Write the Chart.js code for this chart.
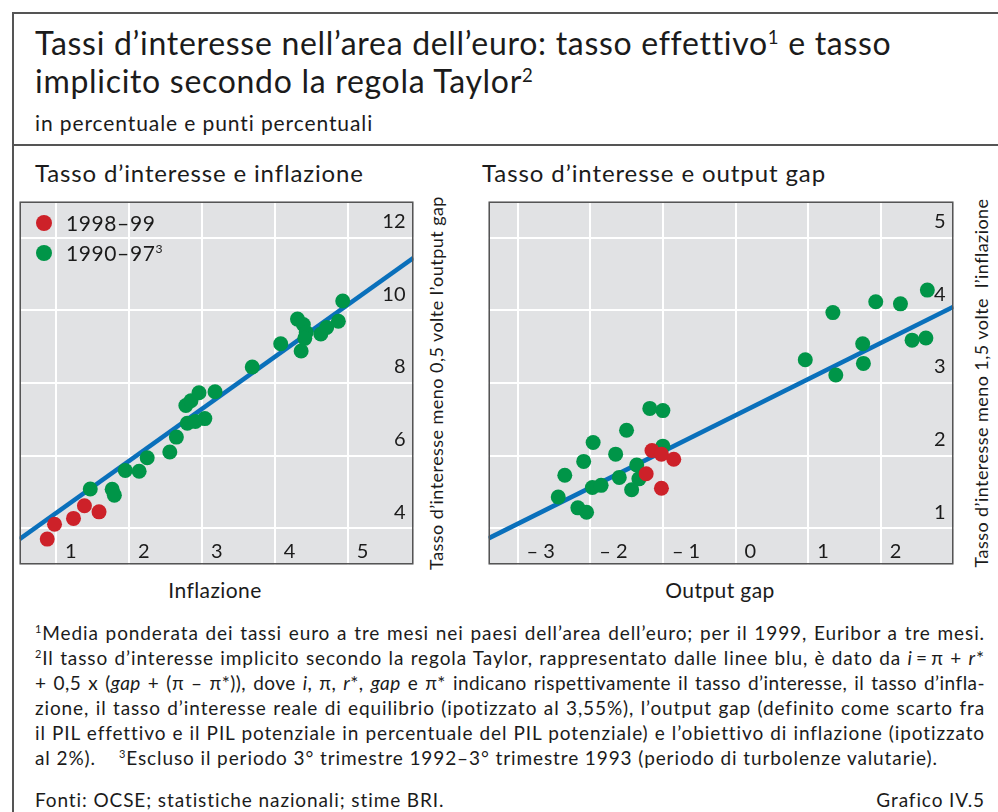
<!DOCTYPE html>
<html>
<head>
<meta charset="utf-8">
<script src="https://cdn.jsdelivr.net/npm/chart.js@4.4.0/dist/chart.umd.min.js"></script>
<style>
  body { margin: 0; background: #fff; }
  #page { position: relative; width: 998px; height: 812px; overflow: hidden; font-family: Lato, sans-serif; color: #1b1b1b; }
  .t { position: absolute; white-space: nowrap; }
  .rule { position: absolute; background: #555; }
  sup { font-size: 0.58em; vertical-align: baseline; position: relative; top: -0.62em; }
  .rot { position: absolute; height: 22px; line-height: 22px; text-align: center; transform: rotate(-90deg); white-space: nowrap; font-size: 18px; letter-spacing: 0.45px; }
  .fn { position: absolute; left: 35px; width: 950px; font-size: 19px; letter-spacing: 0.9px; line-height: 25px; height: 25px; white-space: nowrap; }
  .just { text-align: justify; text-align-last: justify; white-space: normal; }
  .dot { position: absolute; width: 16px; height: 16px; border-radius: 50%; }
  canvas { position: absolute; }
</style>
</head>
<body>
<div id="page">
  <div class="rule" style="left:12px;top:12px;width:986px;height:1.5px"></div>
  <div class="rule" style="left:12px;top:144px;width:986px;height:1.5px"></div>
  <div class="rule" style="left:12px;top:12px;width:1.5px;height:800px"></div>

  <div class="t" style="left:35px;top:23px;font-size:32px;letter-spacing:0.7px;line-height:40px">Tassi d’interesse nell’area dell’euro: tasso effettivo<sup>1</sup> e tasso</div>
  <div class="t" style="left:35px;top:61px;font-size:32px;letter-spacing:0.7px;line-height:40px">implicito secondo la regola Taylor<sup>2</sup></div>
  <div class="t" style="left:35px;top:110px;font-size:21px;letter-spacing:0.9px;line-height:26px">in percentuale e punti percentuali</div>

  <div class="t" style="left:35px;top:158px;font-size:24px;letter-spacing:0.85px;line-height:30px">Tasso d’interesse e inflazione</div>
  <div class="t" style="left:482px;top:158px;font-size:24px;letter-spacing:0.9px;line-height:30px">Tasso d’interesse e output gap</div>

  <canvas id="inflChart" width="409" height="378" style="left:12px;top:194px"></canvas>
  <canvas id="gapChart" width="480" height="378" style="left:481px;top:194px"></canvas>

  <div class="dot" style="left:36px;top:215px;background:#cd2129"></div>
  <div class="t" style="left:66px;top:209px;font-size:21px;letter-spacing:0.6px;line-height:28px">1998–99</div>
  <div class="dot" style="left:36px;top:245px;background:#009548"></div>
  <div class="t" style="left:66px;top:239px;font-size:21px;letter-spacing:0.6px;line-height:28px">1990–97<sup>3</sup></div>

  <div class="rot" style="left:247px;top:372px;width:378px">Tasso d’interesse meno 0,5 volte l’output gap</div>
  <div class="rot" style="left:792px;top:372px;width:378px">Tasso d’interesse meno 1,5 volte&nbsp; l’inflazione</div>

  <div class="t" style="left:115px;top:576px;width:200px;text-align:center;font-size:21px;letter-spacing:0.4px;line-height:28px">Inflazione</div>
  <div class="t" style="left:620px;top:576px;width:200px;text-align:center;font-size:21px;letter-spacing:0.4px;line-height:28px">Output gap</div>

  <div class="fn just" style="top:620px"><sup>1</sup>Media ponderata dei tassi euro a tre mesi nei paesi dell’area dell’euro; per il 1999, Euribor a tre mesi.</div>
  <div class="fn just" style="top:645px"><sup>2</sup>Il tasso d’interesse implicito secondo la regola Taylor, rappresentato dalle linee blu, è dato da <i>i</i>&thinsp;=&thinsp;π + <i>r</i>*</div>
  <div class="fn just" style="top:670px;letter-spacing:0.45px">+ 0,5 x (<i>gap</i> + (π – π*)), dove <i>i</i>, π, <i>r</i>*, <i>gap</i> e π* indicano rispettivamente il tasso d’interesse, il tasso d’infla-</div>
  <div class="fn just" style="top:695px">zione, il tasso d’interesse reale di equilibrio (ipotizzato al 3,55%), l’output gap (definito come scarto fra</div>
  <div class="fn just" style="top:720px">il PIL effettivo e il PIL potenziale in percentuale del PIL potenziale) e l’obiettivo di inflazione (ipotizzato</div>
  <div class="fn" style="top:745px">al 2%).&nbsp;&nbsp;&nbsp; <sup>3</sup>Escluso il periodo 3° trimestre 1992–3° trimestre 1993 (periodo di turbolenze valutarie).</div>
  <div class="fn" style="top:787px">Fonti: OCSE; statistiche nazionali; stime BRI.</div>
  <div class="t" style="right:13px;top:787px;font-size:19px;letter-spacing:0.9px;line-height:25px">Grafico IV.5</div>
</div>

<script>
// left panel: inflation (x) vs interest rate minus 0.5 x output gap (y)
const inflRedX = [0.88, 0.98, 1.24, 1.39, 1.59];
const inflRedY = [3.70, 4.11, 4.27, 4.62, 4.45];
const inflGreenX = [1.47, 1.77, 1.80, 1.95, 2.14, 2.25, 2.56, 2.65, 2.78, 2.85, 2.96, 3.18, 2.80, 2.91, 3.04,
                    3.69, 4.08, 4.31, 4.39, 4.43, 4.41, 4.36, 4.63, 4.71, 4.87, 4.93];
const inflGreenY = [5.08, 5.07, 4.91, 5.59, 5.57, 5.94, 6.10, 6.51, 7.38, 7.51, 7.73, 7.76, 6.89, 6.94, 7.02,
                    8.44, 9.08, 9.76, 9.61, 9.39, 9.23, 8.88, 9.35, 9.53, 9.70, 10.26];
const inflLineX = [0.5, 5.9];
const inflLineY = [3.70, 11.45];
const inflXTicks = [1, 2, 3, 4, 5];
const inflYTicks = [4, 6, 8, 10, 12];

// right panel: output gap (x) vs interest rate minus 1.5 x inflation (y)
const gapRedX = [-1.15, -1.02, -0.85, -1.23, -1.02];
const gapRedY = [2.07, 2.02, 1.95, 1.75, 1.55];
const gapGreenX = [-2.44, -2.35, -2.09, -1.96, -2.17, -2.05, -1.97, -1.85, -1.65, -1.60, -1.50, -1.36, -1.33, -1.43,
                   -1.18, -1.00, -1.00, 0.96, 1.34, 1.38, 1.75, 1.76, 1.93, 2.27, 2.43, 2.62, 2.64];
const gapGreenY = [1.43, 1.73, 1.92, 2.18, 1.28, 1.22, 1.56, 1.59, 2.02, 1.70, 2.35, 1.87, 1.68, 1.53,
                   2.65, 2.62, 2.13, 3.32, 3.97, 3.11, 3.54, 3.27, 4.12, 4.09, 3.59, 3.62, 4.28];
const gapLineX = [-3.4, 3.0];
const gapLineY = [0.86, 4.05];
const gapXTicks = [-3, -2, -1, 0, 1, 2];
const gapYTicks = [1, 2, 3, 4, 5];

const RED = '#cd2129', GREEN = '#009548', BLUE = '#0a70bb', PANEL = '#e1e2e4';

function pts(xs, ys) {
    return xs.map((x, i) => ({ x: x, y: ys[i] }));
}

function fmt(v) {
    return v < 0 ? '– ' + Math.abs(v) : String(v);
}

// grey background, frame and the tick labels that sit inside the plot
const panelPlugin = {
    id: 'panel',
    beforeDraw(chart) {
        const { ctx, chartArea: a } = chart;
        ctx.save();
        ctx.fillStyle = PANEL;
        ctx.fillRect(a.left, a.top, a.width, a.height);
        ctx.restore();
    },
    afterDraw(chart) {
        const { ctx, chartArea: a, scales } = chart;
        ctx.save();
        ctx.fillStyle = '#1b1b1b';
        ctx.font = '20px Lato, sans-serif';
        ctx.textBaseline = 'middle';
        ctx.textAlign = 'left';
        scales.x.ticks.forEach(t => {
            ctx.fillText(fmt(t.value), scales.x.getPixelForValue(t.value) + 9, a.bottom - 13);
        });
        ctx.textAlign = 'right';
        scales.y.ticks.forEach(t => {
            ctx.fillText(fmt(t.value), a.right - 8, scales.y.getPixelForValue(t.value) - 16);
        });
        ctx.strokeStyle = '#555';
        ctx.lineWidth = 1.5;
        ctx.strokeRect(a.left + 0.75, a.top + 0.75, a.width - 1.5, a.height - 1.5);
        ctx.restore();
    }
};

function makePanel(id, red, green, line, xr, yr, xTicks, yTicks) {
    const ctx = document.getElementById(id).getContext('2d');
    new Chart(ctx, {
        type: 'scatter',
        data: {
            datasets: [
                { data: red, backgroundColor: RED, pointRadius: 7.5, pointHoverRadius: 7.5, borderWidth: 0, order: 1 },
                { data: green, backgroundColor: GREEN, pointRadius: 7.5, pointHoverRadius: 7.5, borderWidth: 0, order: 2 },
                { type: 'line', data: line, borderColor: BLUE, borderWidth: 4.5, pointRadius: 0, fill: false, order: 3 }
            ]
        },
        options: {
            responsive: false,
            animation: false,
            events: [],
            layout: { padding: 0 },
            plugins: { legend: { display: false }, tooltip: { enabled: false } },
            scales: {
                x: {
                    type: 'linear', min: xr[0], max: xr[1],
                    afterBuildTicks: s => { s.ticks = xTicks.map(v => ({ value: v })); },
                    ticks: { display: false },
                    grid: { color: '#fff', lineWidth: 2, drawTicks: false },
                    border: { display: false }
                },
                y: {
                    type: 'linear', position: 'right', min: yr[0], max: yr[1],
                    afterBuildTicks: s => { s.ticks = yTicks.map(v => ({ value: v })); },
                    ticks: { display: false },
                    grid: { color: '#fff', lineWidth: 2, drawTicks: false },
                    border: { display: false }
                }
            }
        },
        plugins: [panelPlugin]
    });
}

makePanel('inflChart', pts(inflRedX, inflRedY), pts(inflGreenX, inflGreenY), pts(inflLineX, inflLineY),
    [0.5, 5.9], [3, 13], inflXTicks, inflYTicks);
makePanel('gapChart', pts(gapRedX, gapRedY), pts(gapGreenX, gapGreenY), pts(gapLineX, gapLineY),
    [-3.4, 3.0], [0.5, 5.5], gapXTicks, gapYTicks);
</script>
</body>
</html>
